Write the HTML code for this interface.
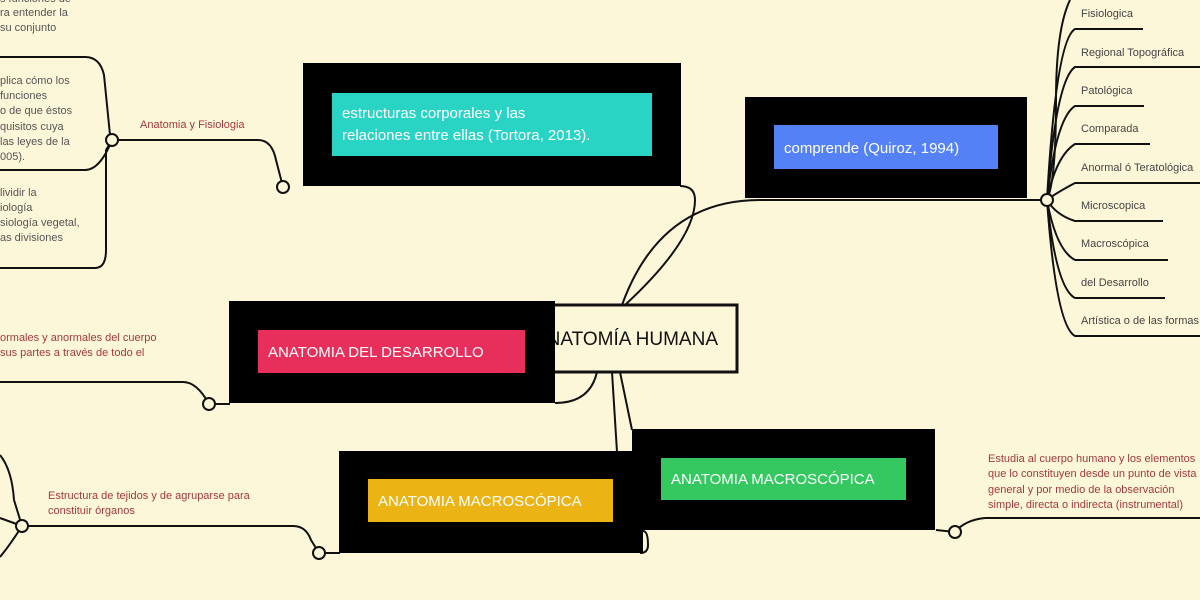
<!DOCTYPE html>
<html><head><meta charset="utf-8"><style>
html,body{margin:0;padding:0;background:#fdf7da;}
svg{display:block;}
text{font-family:"Liberation Sans",sans-serif;}
.g{fill:#555;font-size:11px;}
.r{fill:#a33a3a;font-size:11px;}
.k{fill:#444;font-size:11px;}
.w{fill:#fff;font-size:15px;}
.l{fill:none;stroke:#111;stroke-width:2;}
.c{fill:#fdf7da;stroke:#111;stroke-width:2;}
</style></head><body>
<svg width="1200" height="600" viewBox="0 0 1200 600" xmlns="http://www.w3.org/2000/svg">
<rect width="1200" height="600" fill="#fdf7da"/>
<text class="g" x="0" y="2">s funciones de</text>
<text class="g" x="0" y="16">ra entender la</text>
<text class="g" x="0" y="31">su conjunto</text>
<text class="g" x="0" y="84">plica cómo los</text>
<text class="g" x="0" y="99">funciones</text>
<text class="g" x="0" y="114">o de que éstos</text>
<text class="g" x="0" y="130">quisitos cuya</text>
<text class="g" x="0" y="145">las leyes de la</text>
<text class="g" x="0" y="160">005).</text>
<text class="g" x="0" y="196">lividir la</text>
<text class="g" x="0" y="211">iología</text>
<text class="g" x="0" y="226">siología vegetal,</text>
<text class="g" x="0" y="241">as divisiones</text>
<path class="l" d="M0 57 H85 Q100 57 104 75 L110 135"/>
<path class="l" d="M0 170 H85 Q100 170 112 140"/>
<path class="l" d="M0 268 H95 Q106 268 106 250 V150 L112 140"/>
<path class="l" d="M112 140 H258 Q272 140 276 160 L283 187"/>
<text class="r" x="140" y="128">Anatomia y Fisiologia</text>
<circle class="c" cx="112" cy="140" r="6"/>
<circle class="c" cx="283" cy="187" r="6"/>
<path class="l" d="M680 186 Q695 186 695 200 Q695 240 625 305"/>
<path class="l" d="M622 305 Q660 200 760 200 H1047"/>
<path class="l" d="M555 403 Q590 403 597 372"/>
<path class="l" d="M612 372 L617 452"/>
<path class="l" d="M620 372 L632 430"/>
<path class="l" d="M643 531 Q648 531 648 545 Q648 553 640 553"/>
<g class="l">
<path d="M1047 200 Q1056 180 1056 100 Q1056 29 1070 0"/>
<path d="M1047 200 Q1056 40 1075 29 H1143"/>
<path d="M1047 200 Q1056 80 1075 67 H1200"/>
<path d="M1047 200 Q1056 118 1075 106 H1144"/>
<path d="M1047 200 Q1056 156 1075 144 H1150"/>
<path d="M1047 200 Q1056 193 1075 183 H1200"/>
<path d="M1047 200 Q1056 215 1075 221 H1163"/>
<path d="M1047 200 Q1056 250 1075 260 H1168"/>
<path d="M1047 200 Q1056 288 1075 298 H1165"/>
<path d="M1047 200 Q1056 326 1075 336 H1200"/>
</g>
<circle class="c" cx="1047" cy="200" r="6"/>
<text class="k" x="1081" y="17">Fisiologica</text>
<text class="k" x="1081" y="56">Regional Topográfica</text>
<text class="k" x="1081" y="94">Patológica</text>
<text class="k" x="1081" y="132">Comparada</text>
<text class="k" x="1081" y="171">Anormal ó Teratológica</text>
<text class="k" x="1081" y="209">Microscopica</text>
<text class="k" x="1081" y="247">Macroscópica</text>
<text class="k" x="1081" y="286">del Desarrollo</text>
<text class="k" x="1081" y="324">Artística o de las formas</text>
<text class="r" x="0" y="341">ormales y anormales del cuerpo</text>
<text class="r" x="0" y="356">sus partes a través de todo el</text>
<path class="l" d="M0 382 H183 Q197 382 209 404 H230"/>
<circle class="c" cx="209" cy="404" r="6"/>
<path class="l" d="M0 455 Q12 470 14 500 L22 526"/>
<path class="l" d="M0 518 L22 526"/>
<path class="l" d="M22 526 Q10 545 0 557"/>
<path class="l" d="M22 526 H293 Q306 526 311 540 L319 553 H340"/>
<circle class="c" cx="22" cy="526" r="6"/>
<circle class="c" cx="319" cy="553" r="6"/>
<text class="r" x="48" y="499">Estructura de tejidos y de agruparse para</text>
<text class="r" x="48" y="514">constituir órganos</text>
<path class="l" d="M936 530 L955 532 Q965 520 985 518 H1200"/>
<circle class="c" cx="955" cy="532" r="6"/>
<text class="r" x="988" y="462">Estudia al cuerpo humano y los elementos</text>
<text class="r" x="988" y="477">que lo constituyen desde un punto de vista</text>
<text class="r" x="988" y="493">general y por medio de la observación</text>
<text class="r" x="988" y="508">simple, directa o indirecta (instrumental)</text>
<rect x="531" y="305" width="206" height="67" fill="#fdf7da" stroke="#111" stroke-width="3"/>
<text x="718" y="345" fill="#111" font-size="19" text-anchor="end">ANATOMÍA HUMANA</text>
<rect x="303" y="63" width="378" height="123" fill="#000"/>
<rect x="332" y="93" width="320" height="63" fill="#2ad4c5"/>
<text class="w" x="342" y="118">estructuras corporales y las</text>
<text class="w" x="342" y="140">relaciones entre ellas (Tortora, 2013).</text>
<rect x="745" y="97" width="282" height="101" fill="#000"/>
<rect x="774" y="125" width="224" height="44" fill="#5481f5"/>
<text class="w" x="784" y="153">comprende (Quiroz, 1994)</text>
<rect x="229" y="301" width="326" height="102" fill="#000"/>
<rect x="258" y="330" width="267" height="43" fill="#e82e5a"/>
<text class="w" x="268" y="357">ANATOMIA DEL DESARROLLO</text>
<rect x="339" y="451" width="304" height="102" fill="#000"/>
<rect x="368" y="479" width="245" height="43" fill="#ebb313"/>
<text class="w" x="378" y="506">ANATOMIA MACROSCÓPICA</text>
<rect x="632" y="429" width="303" height="101" fill="#000"/>
<rect x="661" y="458" width="245" height="42" fill="#35c860"/>
<text class="w" x="671" y="484">ANATOMIA MACROSCÓPICA</text>
</svg>
</body></html>
